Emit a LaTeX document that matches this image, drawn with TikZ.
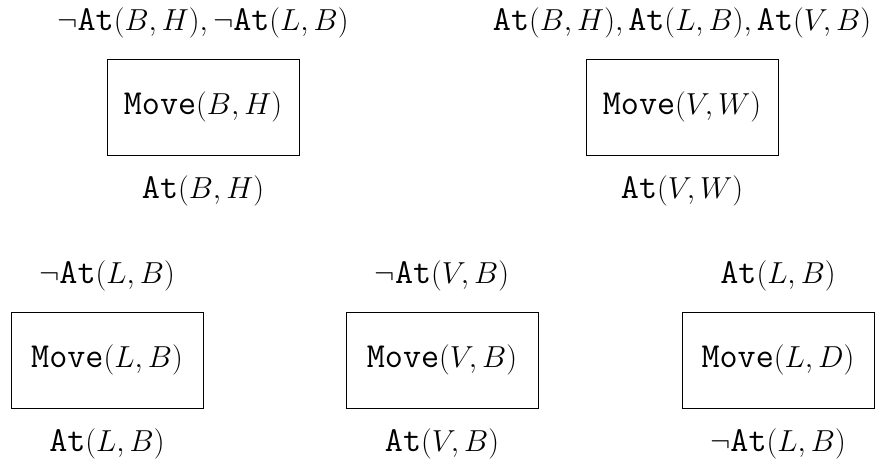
\documentclass[tikz,border=0pt]{standalone}
\usepackage{amsmath,amssymb}
\usepackage{fontspec}
\setmonofont{Latin Modern Mono}[Scale=1.08]
\usepackage{tikz}
\usetikzlibrary{positioning}

\newcommand{\At}{\texttt{At}}
\newcommand{\Mv}{\texttt{Move}}

\begin{document}
\begin{tikzpicture}[
    action/.style={draw, thin, minimum width=3.84cm, minimum height=1.92cm, inner sep=0pt},
    fact/.style={inner sep=0pt},
    every node/.style={font=\fontsize{18.5}{22}\selectfont}
  ]
    \useasboundingbox (0,0) rectangle (17.64,9.28);
    % top row
    \node[action] (mbh) at (4.06,7.14) {$\Mv(B,H)$};
    \node[fact, above=0.4cm of mbh] (mbh-pre) {$\neg\At(B,H), \neg\At(L,B)$};
    \node[fact, below=0.4cm of mbh] (mbh-post) {$\At(B,H)$};
    \node[action] (mvw) at (13.64,7.14) {$\Mv(V,W)$};
    \node[fact, above=0.4cm of mvw] (mvw-pre) {$\At(B,H), \At(L,B), \At(V,B)$};
    \node[fact, below=0.4cm of mvw] (mvw-post) {$\At(V,W)$};
    % bottom row
    \foreach \x/\name/\act/\pre/\post in {
        2.14/mlb/{L,B}/{\neg\At(L,B)}/{\At(L,B)},
        8.84/mvb/{V,B}/{\neg\At(V,B)}/{\At(V,B)},
        15.56/mld/{L,D}/{\At(L,B)}/{\neg\At(L,B)}}
    {
        \node[action] (\name) at (\x,2.08) {$\Mv(\act)$};
        \node[fact, above=0.4cm of \name] (\name-pre) {$\pre$};
        \node[fact, below=0.4cm of \name] (\name-post) {$\post$};
    }
\end{tikzpicture}
\end{document}
